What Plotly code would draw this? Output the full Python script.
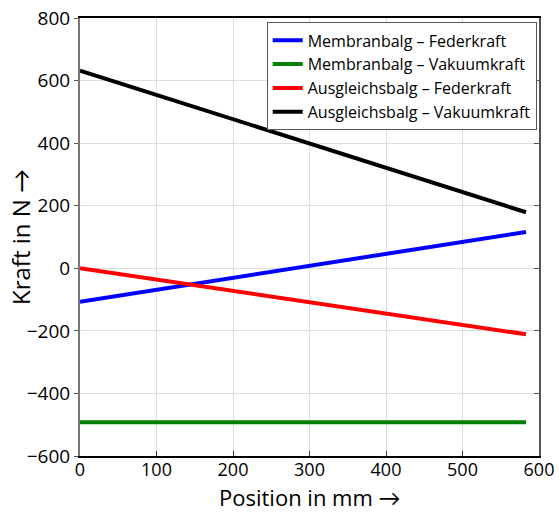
import plotly.graph_objects as go

position_mm = [0, 583]
membran_feder = [-107, 116]
membran_vakuum = [-492, -492]
ausgleich_feder = [0, -211]
ausgleich_vakuum = [632, 179]

series = [
    ("Membranbalg – Federkraft", membran_feder, "#0000ff"),
    ("Membranbalg – Vakuumkraft", membran_vakuum, "#008000"),
    ("Ausgleichsbalg – Federkraft", ausgleich_feder, "#ff0000"),
    ("Ausgleichsbalg – Vakuumkraft", ausgleich_vakuum, "#000000"),
]

x_ticks = [0, 100, 200, 300, 400, 500, 600]
y_ticks = [-600, -400, -200, 0, 200, 400, 600, 800]
x_title = "Position in mm →"
y_title = "Kraft in N →"

fig = go.Figure()
for name, ys, color in series:
    fig.add_trace(go.Scatter(x=position_mm, y=ys, mode="lines", name=name,
                             line=dict(color=color, width=4)))

# invisible trace on a second y axis for inward right ticks
fig.add_trace(go.Scatter(x=position_mm, y=ausgleich_feder, yaxis="y2", mode="lines",
                         line=dict(width=0), showlegend=False, hoverinfo="skip", opacity=0))

font = "Open Sans, Lato, sans-serif"
fig.update_layout(
    width=559, height=512,
    margin=dict(l=80, r=20, t=18, b=56),
    plot_bgcolor="white", paper_bgcolor="white",
    font=dict(family=font, color="black"),
    showlegend=True,
    legend=dict(x=0.995, y=0.99, xanchor="right", yanchor="top",
                bgcolor="white", bordercolor="#555555", borderwidth=1,
                font=dict(size=16, family=font), tracegroupgap=0,
                itemwidth=30),
    xaxis=dict(range=[0, 600], tickvals=x_ticks, ticks="inside", ticklen=5,
               tickcolor="#333333", showline=True, linecolor="black", linewidth=1.5,
               mirror=True, showgrid=True, gridcolor="#dddddd", zeroline=False,
               automargin=False, tickfont=dict(size=18), ticklabelstandoff=-3),
    yaxis=dict(range=[-600, 800], tickvals=y_ticks, ticks="outside", ticklen=4,
               tickcolor="#555555", showline=True, linecolor="#777777", linewidth=2,
               mirror=False, showgrid=True, gridcolor="#dddddd", zeroline=False,
               automargin=False, tickfont=dict(size=19)),
    yaxis2=dict(range=[-600, 800], tickvals=y_ticks, ticks="inside", ticklen=5,
                tickcolor="#555555", showline=True, linecolor="#555555", linewidth=1.5,
                overlaying="y", side="right", showticklabels=False, showgrid=False,
                zeroline=False, automargin=False),
    annotations=[
        dict(text=x_title, xref="paper", yref="paper", x=0.5, y=0, yshift=-41,
             xanchor="center", yanchor="middle", showarrow=False, font=dict(size=22)),
        dict(text=y_title, xref="paper", yref="paper", x=0, y=0.5, xshift=-60,
             xanchor="center", yanchor="middle", textangle=-90, showarrow=False,
             font=dict(size=24)),
    ],
)
fig.write_html("out.html")
